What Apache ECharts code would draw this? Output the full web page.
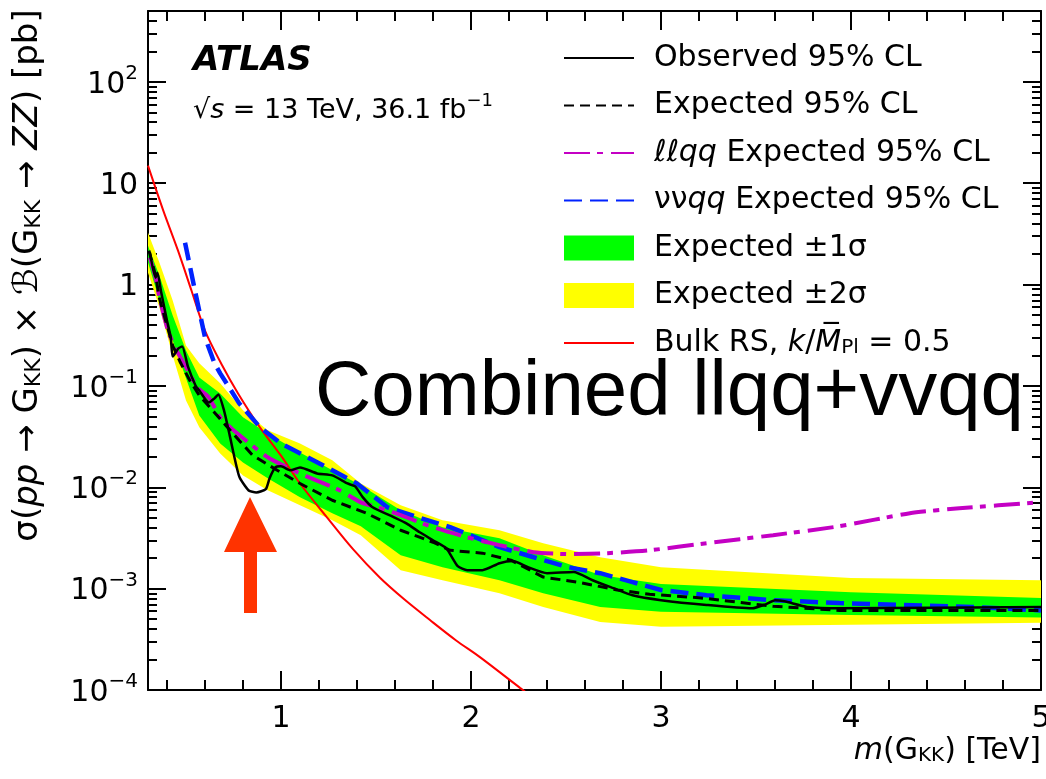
<!DOCTYPE html>
<html>
<head>
<meta charset="utf-8">
<script src="https://cdn.jsdelivr.net/npm/echarts@6/dist/echarts.min.js"></script>
<style>
  html, body { margin: 0; padding: 0; background: #fff; }
  #chart { width: 1046px; height: 779px; }
</style>
</head>
<body>
<div id="chart"></div>
<script>
// observed limit
const obsX = [0.31, 0.34, 0.35, 0.37, 0.40, 0.42, 0.43, 0.46, 0.48, 0.51, 0.55, 0.57, 0.62, 0.65, 0.67, 0.70, 0.73, 0.78, 0.83, 0.87, 0.92, 0.94, 0.97, 1.00, 1.05, 1.10, 1.19, 1.27, 1.35, 1.39, 1.43, 1.48, 1.59, 1.66, 1.73, 1.80, 1.87, 1.93, 1.98, 2.06, 2.15, 2.22, 2.30, 2.40, 2.54, 2.64, 2.75, 2.85, 3.00, 3.24, 3.48, 3.55, 3.60, 3.65, 3.77, 3.94, 5.00];
const obsY = [2.07, 1.17, 1.31, 0.83, 0.44, 0.30, 0.195, 0.234, 0.245, 0.156, 0.101, 0.090, 0.0687, 0.0753, 0.0824, 0.0574, 0.0325, 0.0128, 0.0093, 0.0089, 0.0096, 0.0123, 0.0157, 0.0161, 0.0147, 0.0157, 0.0137, 0.0131, 0.0109, 0.0102, 0.0080, 0.0064, 0.0051, 0.0044, 0.0036, 0.0030, 0.0025, 0.00167, 0.00152, 0.00152, 0.00178, 0.00187, 0.00163, 0.00142, 0.00146, 0.00121, 0.00101, 0.00086, 0.00077, 0.00069, 0.00064, 0.00070, 0.00077, 0.00075, 0.00066, 0.00064, 0.00066];

// expected limit
const expX = [0.305, 0.34, 0.36, 0.39, 0.43, 0.47, 0.52, 0.57, 0.64, 0.71, 0.78, 0.85, 0.98, 1.10, 1.27, 1.45, 1.63, 1.80, 1.89, 2.06, 2.21, 2.38, 2.56, 2.77, 2.94, 3.21, 3.59, 3.94, 5.00];
const expY = [2.16, 1.23, 0.73, 0.46, 0.25, 0.171, 0.113, 0.0805, 0.0574, 0.0408, 0.029, 0.0207, 0.0147, 0.0109, 0.00745, 0.00555, 0.00377, 0.00287, 0.00239, 0.00224, 0.00191, 0.0013, 0.00116, 0.00097, 0.00088, 0.00081, 0.00067, 0.00061, 0.00061];

// llqq expected
const llX = [0.31, 0.34, 0.36, 0.405, 0.45, 0.51, 0.56, 0.62, 0.68, 0.75, 0.93, 1.10, 1.31, 1.42, 1.56, 1.80, 1.98, 2.15, 2.33, 2.52, 2.72, 2.94, 3.24, 3.59, 3.94, 4.31, 4.57, 5.00];
const llY = [1.85, 1.17, 0.745, 0.352, 0.224, 0.142, 0.0966, 0.0771, 0.049, 0.0365, 0.0198, 0.0137, 0.00933, 0.00711, 0.00593, 0.00404, 0.00321, 0.00269, 0.00229, 0.00219, 0.00224, 0.00239, 0.00281, 0.00337, 0.00413, 0.00555, 0.00621, 0.00711];

// vvqq expected
const vvX = [0.495, 0.547, 0.60, 0.65, 0.68, 0.78, 0.89, 1.00, 1.14, 1.27, 1.40, 1.56, 1.72, 1.89, 2.15, 2.33, 2.51, 2.68, 2.85, 3.00, 3.24, 3.59, 3.94, 4.64, 5.00];
const vvY = [2.59, 0.873, 0.301, 0.167, 0.133, 0.0673, 0.039, 0.0271, 0.0198, 0.0147, 0.0109, 0.00635, 0.00506, 0.00404, 0.00257, 0.00204, 0.00163, 0.00142, 0.00116, 0.00097, 0.00086, 0.00077, 0.00072, 0.00066, 0.00061];

// Bulk RS prediction
const rsX = [0.30, 0.38, 0.458, 0.53, 0.60, 0.69, 0.774, 0.889, 1.00, 1.10, 1.24, 1.379, 1.521, 1.65, 1.784, 1.92, 2.047, 2.258, 2.468];
const rsY = [14.9, 5.4, 2.16, 0.86, 0.352, 0.16, 0.0843, 0.039, 0.0205, 0.0109, 0.0051, 0.00245, 0.00128, 0.00078, 0.00049, 0.00031, 0.000211, 0.000105, 0.000053];

// expected bands
const bandX = [0.30, 0.36, 0.43, 0.50, 0.57, 0.68, 0.80, 0.93, 1.10, 1.27, 1.42, 1.63, 1.85, 2.15, 2.38, 2.68, 3.00, 4.00, 5.00];
const up2 = [3.25, 1.65, 0.695, 0.251, 0.167, 0.106, 0.0574, 0.0365, 0.0271, 0.0185, 0.0109, 0.00665, 0.00473, 0.00377, 0.00281, 0.00204, 0.00163, 0.00127, 0.00121];
const up1 = [2.42, 1.23, 0.496, 0.224, 0.121, 0.0843, 0.049, 0.034, 0.0221, 0.0147, 0.0105, 0.00593, 0.00404, 0.00315, 0.00214, 0.00136, 0.00111, 0.00092, 0.00081];
const dn1 = [1.65, 0.695, 0.281, 0.119, 0.0512, 0.0271, 0.0176, 0.0123, 0.00796, 0.00555, 0.00413, 0.00214, 0.00163, 0.00121, 0.0009, 0.00066, 0.00059, 0.00055, 0.00052];
const dn2 = [1.31, 0.593, 0.200, 0.0719, 0.039, 0.0216, 0.0131, 0.00933, 0.00665, 0.00473, 0.00337, 0.00152, 0.00121, 0.0009, 0.00066, 0.00047, 0.00042, 0.00044, 0.00046];

// ticks
const xMajor = [1, 2, 3, 4, 5];
const xMinor = [0.4, 0.6, 0.8, 1.2, 1.4, 1.6, 1.8, 2.2, 2.4, 2.6, 2.8, 3.2, 3.4, 3.6, 3.8, 4.2, 4.4, 4.6, 4.8];
const yMajor = [1e-4, 1e-3, 1e-2, 1e-1, 1, 10, 100];
const yMinor = [];
yMajor.forEach(d => [2, 3, 4, 5, 6, 7, 8, 9].forEach(k => { if (k * d <= 500) yMinor.push(+(k * d).toPrecision(2)); }));

const FONT = '"DejaVu Sans", sans-serif';
const zip = (xs, ys) => xs.map((x, i) => [x, ys[i]]);

function powLabel(v) {
  const e = Math.round(Math.log10(v));
  if (e === 0) return '{b|1}';
  if (e === 1) return '{b|10}';
  return '{b|10}{p|' + (e < 0 ? '\u2212' + (-e) : e) + '}';
}

const black = { color: '#000', width: 2 };

function xAx(pos, ticks, len, main) {
  return {
    type: 'value', min: 0.3, max: 5, position: pos,
    axisLine: { show: main, onZero: false, lineStyle: black },
    axisTick: { inside: true, length: len, customValues: ticks, lineStyle: black },
    axisLabel: main && pos === 'bottom'
      ? { customValues: xMajor, fontSize: 30, fontFamily: FONT, color: '#000', margin: 14 }
      : { show: false },
    splitLine: { show: false }
  };
}
function yAx(pos, ticks, len, main) {
  return {
    type: 'log', logBase: 10, min: 1e-4, max: 500, position: pos,
    axisLine: { show: main, onZero: false, lineStyle: black },
    axisTick: { inside: true, length: len, customValues: ticks, lineStyle: black },
    axisLabel: main && pos === 'left' ? {
      customValues: yMajor, formatter: powLabel, margin: 10,
      rich: {
        b: { fontSize: 30, fontFamily: FONT, color: '#000', lineHeight: 36, verticalAlign: 'bottom' },
        p: { fontSize: 20, fontFamily: FONT, color: '#000', lineHeight: 20, verticalAlign: 'top' }
      }
    } : { show: false },
    splitLine: { show: false }
  };
}

function band(name, upper, lower, color) {
  return {
    name, type: 'custom', coordinateSystem: 'cartesian2d', data: [[1, 0.01]], z: 1, silent: true,
    itemStyle: { color },
    renderItem: (params, api) => {
      const pts = bandX.map((x, i) => api.coord([x, upper[i]]));
      for (let i = bandX.length - 1; i >= 0; i--) pts.push(api.coord([bandX[i], lower[i]]));
      return { type: 'polygon', shape: { points: pts }, style: { fill: color } };
    }
  };
}
function curve(name, xs, ys, color, width, type, z) {
  return {
    name, type: 'line', data: zip(xs, ys), symbol: 'none', z,
    lineStyle: { color, width, type }, itemStyle: { color }
  };
}

const txt = {
  n: { fontSize: 30, fontFamily: FONT, color: '#000', lineHeight: 30 },
  i: { fontSize: 30, fontFamily: FONT, fontStyle: 'italic', color: '#000', lineHeight: 30 },
  s: { fontSize: 20, fontFamily: FONT, color: '#000', lineHeight: 30, verticalAlign: 'bottom' }
};
const legendText = {
  obs: '{n|Observed 95% CL}',
  exp: '{n|Expected 95% CL}',
  ll: '{i|\u2113\u2113qq}{n| Expected 95% CL}',
  vv: '{n|\u03bd\u03bd}{i|qq}{n| Expected 95% CL}',
  s1: '{n|Expected \u00b11\u03c3}',
  s2: '{n|Expected \u00b12\u03c3}',
  rs: '{n|Bulk RS, }{i|k}{n|/}{i|M\u0305}{s|Pl}{n| = 0.5}'
};
const noSymbol = { opacity: 0 };

const chart = echarts.init(document.getElementById('chart'));
chart.setOption({
  animation: false,
  backgroundColor: '#fff',
  grid: { left: 148, right: 5, top: 11, bottom: 89, containLabel: false, outerBoundsMode: 'none' },
  xAxis: [
    Object.assign(xAx('bottom', xMajor, 19, true), {
      name: '{i|m}{n|(G}{s|KK}{n|) [TeV]}',
      nameLocation: 'end', nameGap: 0,
      nameTextStyle: { align: 'right', verticalAlign: 'top', padding: [46, 0, 0, 0], rich: txt }
    }),
    xAx('bottom', xMinor, 10, false),
    xAx('top', xMajor, 19, true),
    xAx('top', xMinor, 10, false)
  ],
  yAxis: [
    Object.assign(yAx('left', yMajor, 18, true), {
      name: '{n|\u03c3(}{i|pp}{n| \u2192 G}{s|KK}{n|) \u00d7 }{i|\u212c}{n|(G}{s|KK}{n| \u2192 }{i|ZZ}{n|) [pb]}',
      nameLocation: 'middle', nameGap: 103, nameRotate: 90,
      nameTextStyle: {
        padding: [0, 0, 0, 150],
        rich: {
          n: { fontSize: 34, fontFamily: FONT, color: '#000', lineHeight: 34 },
          i: { fontSize: 34, fontFamily: FONT, fontStyle: 'italic', color: '#000', lineHeight: 34 },
          s: { fontSize: 22, fontFamily: FONT, color: '#000', lineHeight: 34, verticalAlign: 'bottom' }
        }
      }
    }),
    yAx('left', yMinor, 9, false),
    yAx('right', yMajor, 18, true),
    yAx('right', yMinor, 9, false)
  ],
  legend: {
    orient: 'vertical', left: 558, top: 38, itemWidth: 70, itemHeight: 25, itemGap: 17.5,
    selectedMode: false,
    data: [
      { name: 'obs', itemStyle: noSymbol }, { name: 'exp', itemStyle: noSymbol },
      { name: 'll', itemStyle: noSymbol }, { name: 'vv', itemStyle: noSymbol },
      { name: 's1', icon: 'rect' }, { name: 's2', icon: 'rect' },
      { name: 'rs', itemStyle: noSymbol }
    ],
    formatter: n => legendText[n],
    textStyle: { padding: [0, 0, 0, 15], rich: txt }
  },
  series: [
    band('s2', up2, dn2, '#ffff00'),
    band('s1', up1, dn1, '#00ff00'),
    Object.assign(curve('rs', rsX, rsY, '#ff0000', 2, 'solid', 3), { smooth: 0.3 }),
    curve('vv', vvX, vvY, '#0022ff', 4.5, [18, 8], 4),
    Object.assign(curve('ll', llX, llY, '#c400c4', 4, [26, 7, 6, 8], 5), { smooth: 0.2 }),
    curve('exp', expX, expY, '#000', 3, [10, 6], 6),
    Object.assign(curve('obs', obsX, obsY, '#000', 2.5, 'solid', 7), { smooth: 0.2 })
  ],
  graphic: [
    { type: 'text', left: 193, top: 44, style: { text: 'ATLAS', font: 'italic bold 34px "DejaVu Sans"', fill: '#000' } },
    {
      type: 'text', left: 193, top: 92,
      style: {
        text: '{n|\u221a}{i|s}{n| = 13 TeV, 36.1 fb}{p|\u22121}',
        rich: {
          n: { fontSize: 27, fontFamily: FONT, fill: '#000', lineHeight: 32, verticalAlign: 'bottom' },
          i: { fontSize: 27, fontFamily: FONT, fontStyle: 'italic', fill: '#000', lineHeight: 32, verticalAlign: 'bottom' },
          p: { fontSize: 18, fontFamily: FONT, fill: '#000', lineHeight: 18, verticalAlign: 'top' }
        }
      }
    },
    { type: 'text', left: 315, top: 354, style: { text: 'Combined llqq+vvqq', font: '78px "Liberation Sans"', fill: '#000' } },
    {
      type: 'polygon', z: 100,
      shape: { points: [[250, 497], [277, 552], [257, 552], [257, 613], [244, 613], [244, 552], [224, 552]] },
      style: { fill: '#ff3300' }
    }
  ]
});
</script>
</body>
</html>
